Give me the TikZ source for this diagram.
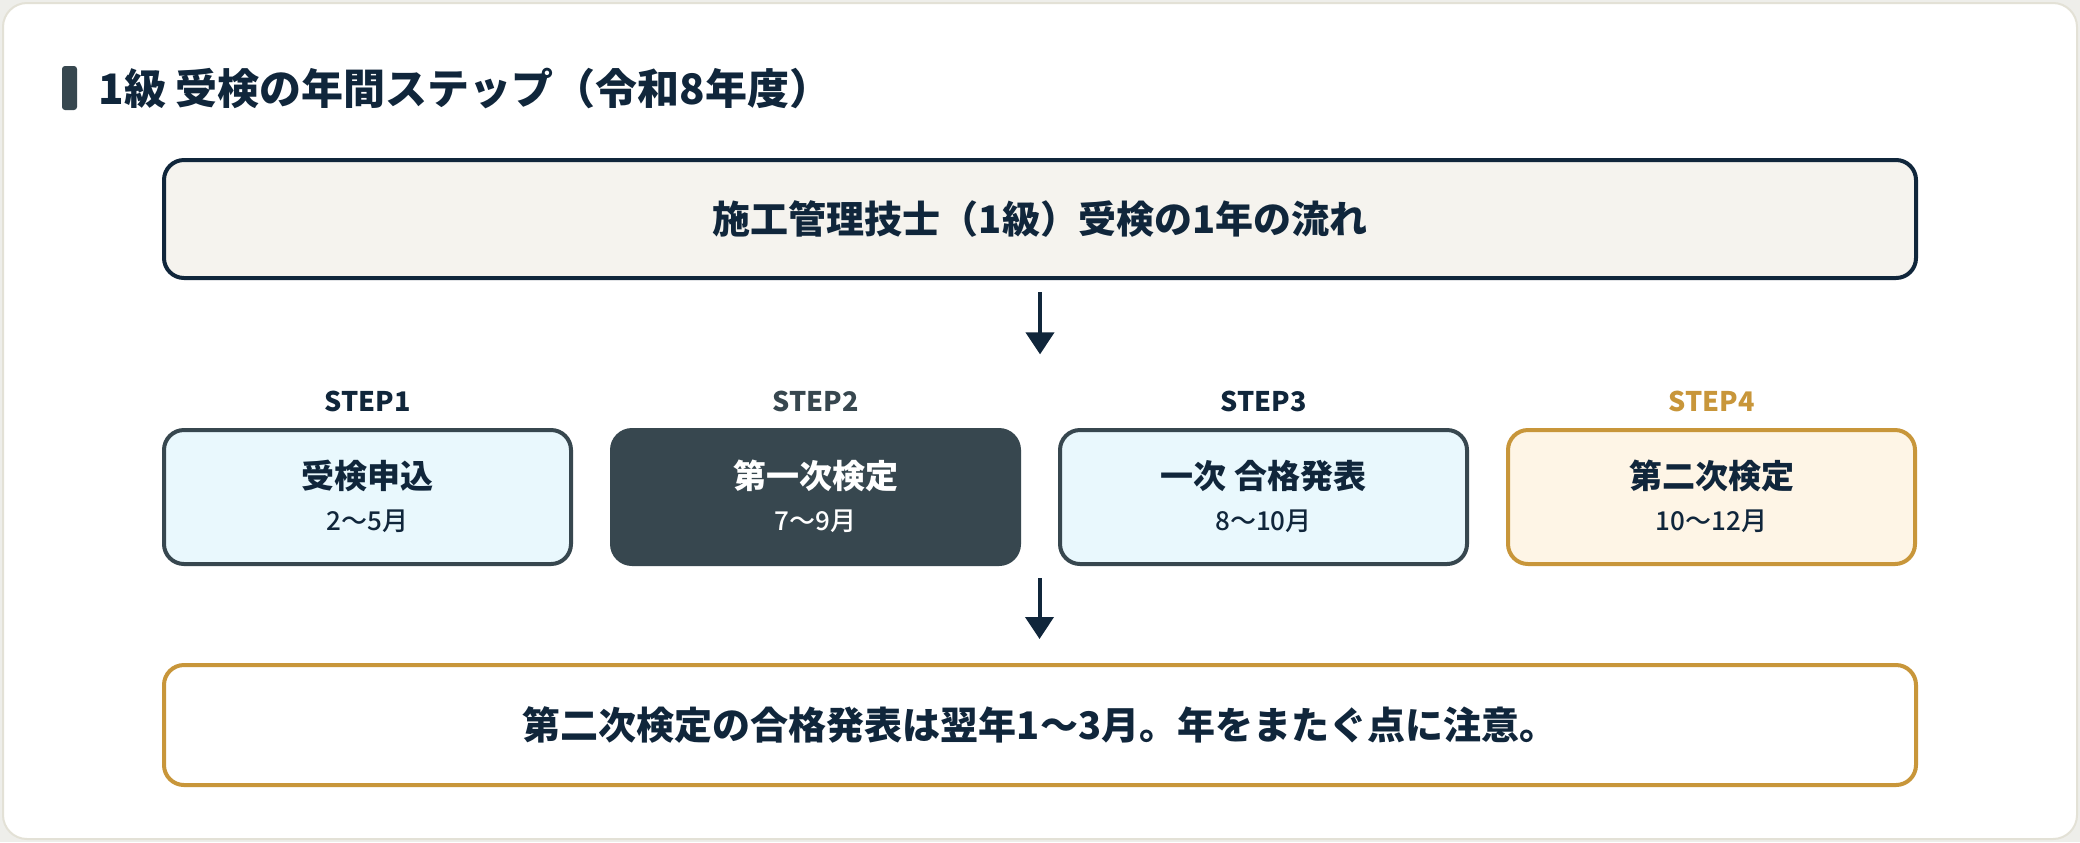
\documentclass[tikz,border=0pt]{standalone}
\usepackage{fontspec}
\setmainfont{Noto Sans CJK JP}
\newfontfamily\jpmed{Noto Sans CJK JP Medium}
\usepackage{xcolor}
\usepackage{tikz}
\usetikzlibrary{arrows.meta, positioning, calc}
\definecolor{navy}{HTML}{10263B}
\definecolor{slate}{HTML}{37474F}
\definecolor{ice}{HTML}{E9F8FD}
\definecolor{cream}{HTML}{F5F3EE}
\definecolor{gold}{HTML}{C8963A}
\definecolor{goldfill}{HTML}{FEF5E6}
\definecolor{cardline}{HTML}{E3E1D6}
\definecolor{pagebg}{HTML}{EEEEEA}

\begin{document}
\begin{tikzpicture}[
    x=0.5pt, y=-0.5pt,
    node distance=20.5pt,
    stepbox/.style={draw=slate, line width=2pt, rounded corners=10pt, outer sep=0pt,
                    minimum width=203.5pt, minimum height=67pt, fill=ice, text=navy, align=center,
                    font=\fontsize{13}{21}\selectfont\jpmed, text depth=2pt},
    steplbl/.style={font=\fontsize{13.5}{16}\selectfont\bfseries, text=navy, inner sep=0pt},
    widebox/.style={line width=2pt, rounded corners=10pt, outer sep=0pt, minimum width=876pt,
                    text=navy, font=\fontsize{19}{23}\selectfont\bfseries},
    arrow/.style={-{Triangle[width=14pt, length=11pt]}, line width=2pt, navy}
]
  % page and card
  \useasboundingbox (0,0) rectangle (2080,842);
  \fill[pagebg] (0,0) rectangle (2080,842);
  \draw[cardline, fill=white, line width=1pt, rounded corners=12pt] (3,3) rectangle (2077,839);

  % heading
  \node[fill=slate, minimum width=7.5pt, minimum height=22pt, inner sep=0pt, rounded corners=1.5pt] (bar) at (69.5,88) {};
  \node[right=10.5pt of bar, inner sep=0pt, text=navy, font=\fontsize{21}{25}\selectfont\bfseries] (ttl) {1級 受検の年間ステップ（令和8年度）};

  \node[widebox, draw=navy, fill=cream, minimum height=59pt] (head) at (1040,219) {施工管理技士（1級）受検の1年の流れ};

  % four steps
  \node[stepbox] (s1) at (367.5,497) {{\fontsize{16.5}{20}\selectfont\bfseries 受検申込}\\2〜5月};
  \node[stepbox, right=of s1, fill=slate, text=white] (s2) {{\fontsize{16.5}{20}\selectfont\bfseries 第一次検定}\\7〜9月};
  \node[stepbox, right=of s2] (s3) {{\fontsize{16.5}{20}\selectfont\bfseries 一次 合格発表}\\8〜10月};
  \node[stepbox, right=of s3, draw=gold, fill=goldfill] (s4) {{\fontsize{16.5}{20}\selectfont\bfseries 第二次検定}\\10〜12月};

  \node[steplbl, above=9pt of s1] (l1) {STEP1};
  \node[steplbl, above=9pt of s2, text=slate] (l2) {STEP2};
  \node[steplbl, above=9pt of s3] (l3) {STEP3};
  \node[steplbl, above=9pt of s4, text=gold] (l4) {STEP4};

  \node[widebox, draw=gold, fill=white, minimum height=60pt] (foot) at (1040,725) {第二次検定の合格発表は翌年1〜3月。年をまたぐ点に注意。};

  % arrows
  \coordinate (a1) at (head.south |- l2.north);
  \coordinate (gap) at ($(s2.south east)!0.5!(s3.south west)$);
  \draw[arrow, shorten <=7pt, shorten >=18pt] (head.south) -- (a1);
  \draw[arrow, shorten <=7pt, shorten >=13pt] (gap) -- (gap |- foot.north);
\end{tikzpicture}
\end{document}
